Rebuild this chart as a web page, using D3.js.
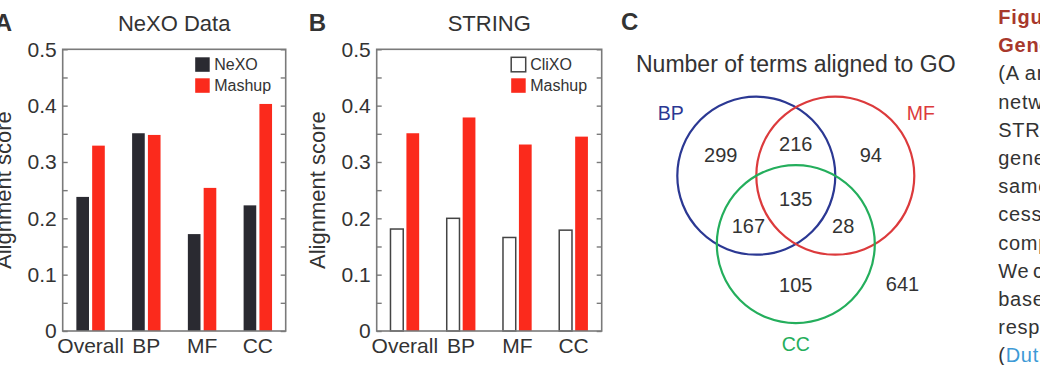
<html>
<head>
<meta charset="utf-8">
<script src="https://d3js.org/d3.v7.min.js"></script>
<style>
    body {
        margin: 0;
        background: #fff;
    }

    svg text {
        font-family: "Liberation Sans", Arial, Helvetica, sans-serif;
        fill: #333;
    }

    .caption {
        letter-spacing: 0.7px;
    }
</style>
</head>

<body>
<div id="chart"></div>

<script>
    // Data
    var categories = ["Overall", "BP", "MF", "CC"];
    var nexoScore = [0.238, 0.351, 0.172, 0.223];
    var nexoMashup = [0.329, 0.348, 0.254, 0.403];
    var clixoScore = [0.181, 0.200, 0.166, 0.179];
    var stringMashup = [0.351, 0.379, 0.331, 0.345];
    var yTickLabels = [0, 0.1, 0.2, 0.3, 0.4, 0.5];

    var vennSets = ["BP", "MF", "CC"];
    var vennOnly = [299, 94, 105];          // BP only, MF only, CC only
    var vennPairs = [216, 167, 28];        // BP&MF, BP&CC, MF&CC
    var vennAll = 135;
    var vennNone = 641;

    var captionLines = [
        "Figure 3. Comparison of inferred ontologies to the",
        "Gene Ontology",
        "(A and B) Alignment of ontologies inferred from the",
        "network data used to build NeXO and from the",
        "STRING network with the Gene Ontology, for the",
        "genes annotated in both the inferred ontology and the",
        "same branch of GO (biological process, molecular pro-",
        "cess, molecular function and cellular",
        "component) of the Gene Ontology.",
        "We",
        "based on the terms of the two ontologies,",
        "respectively, as described previously",
        "(Dutkowski et al., 2013)."
    ];

    var width = 1040;
    var height = 365;
    var svg = d3.select("#chart").append("svg")
        .attr("width", width)
        .attr("height", height);

    var barDark = "#2a2a31";
    var barRed = "#fb2a1c";
    var frameColor = "#7a7a7a";

    function drawPanel(opts) {
        var left = opts.left, right = opts.right, top = 49.3, bottom = 331;
        var g = svg.append("g");

        var ys = d3.scaleLinear().domain([0, 0.5]).range([bottom, top]);
        var xs = d3.scaleBand().domain(categories).range([left, right])
            .paddingInner(0.49).paddingOuter(0.245);
        var xSub = d3.scaleBand().domain([0, 1]).range([0, xs.bandwidth()])
            .paddingInner(0.2);

        // bars
        opts.series.forEach(function (s, si) {
            g.selectAll(null)
                .data(s.values)
                .enter()
                .append("rect")
                .attr("x", function (d, i) { return xs(categories[i]) + xSub(si); })
                .attr("y", function (d) { return ys(d); })
                .attr("width", xSub.bandwidth())
                .attr("height", function (d) { return ys(0) - ys(d); })
                .attr("fill", s.fill)
                .attr("stroke", s.stroke || "none")
                .attr("stroke-width", 1.5);
        });

        // frame
        g.append("rect")
            .attr("x", left).attr("y", top)
            .attr("width", right - left).attr("height", bottom - top)
            .attr("fill", "none")
            .attr("stroke", frameColor)
            .attr("stroke-width", 1.6);

        var minor = d3.range(0, 0.5001, 0.05);
        var yLeft = g.append("g")
            .attr("transform", "translate(" + left + ",0)")
            .call(d3.axisLeft(ys).tickValues(minor).tickSize(-5).tickPadding(6)
                .tickFormat(function (d) {
                    var hit = yTickLabels.find(function (t) { return Math.abs(t - d) < 1e-6; });
                    return hit === undefined ? "" : d3.format("")(hit);
                }));
        yLeft.select(".domain").remove();
        yLeft.selectAll("line").attr("stroke", frameColor).attr("stroke-width", 1.4);
        yLeft.selectAll("text").style("font-size", "21px").attr("fill", "#333");

        var yRight = g.append("g")
            .attr("transform", "translate(" + right + ",0)")
            .call(d3.axisRight(ys).tickValues(minor).tickSize(-5).tickFormat(""));
        yRight.select(".domain").remove();
        yRight.selectAll("line").attr("stroke", frameColor).attr("stroke-width", 1.4);

        var xAxis = g.append("g")
            .attr("transform", "translate(0," + bottom + ")")
            .call(d3.axisBottom(xs).tickSize(0).tickPadding(7));
        xAxis.select(".domain").remove();
        xAxis.selectAll("text").style("font-size", "21px").attr("fill", "#333");

        // titles
        g.append("text")
            .attr("x", (left + right) / 2)
            .attr("y", 31)
            .attr("text-anchor", "middle")
            .style("font-size", "22px")
            .text(opts.title);

        g.append("text")
            .attr("x", left - 68)
            .attr("y", 31)
            .style("font-size", "24px")
            .style("font-weight", "bold")
            .attr("fill", "#222")
            .text(opts.letter);

        g.append("text")
            .attr("transform", "translate(" + (left - 52) + "," + ((top + bottom) / 2) + ") rotate(-90)")
            .attr("text-anchor", "middle")
            .style("font-size", "22px")
            .text("Alignment score");

        // legend
        opts.series.forEach(function (s, si) {
            var ly = top + 8 + si * 21;
            g.append("rect")
                .attr("x", right - 90.5).attr("y", ly)
                .attr("width", 14.5).attr("height", 14.5)
                .attr("fill", s.fill)
                .attr("stroke", s.stroke || "none")
                .attr("stroke-width", 1.5);
            g.append("text")
                .attr("x", right - 71.5).attr("y", ly + 7.25)
                .attr("dy", "0.36em")
                .style("font-size", "16px")
                .text(s.name);
        });
    }

    drawPanel({
        left: 62.7, right: 285.7, title: "NeXO Data", letter: "A",
        series: [
            { name: "NeXO", values: nexoScore, fill: barDark },
            { name: "Mashup", values: nexoMashup, fill: barRed }
        ]
    });

    drawPanel({
        left: 376.7, right: 601.7, title: "STRING", letter: "B",
        series: [
            { name: "CliXO", values: clixoScore, fill: "#fff", stroke: "#444" },
            { name: "Mashup", values: stringMashup, fill: barRed }
        ]
    });

    // Panel C: Venn diagram
    var cx = 795.8, cy = 198.5, r = 79;
    var d = r / Math.sqrt(3);
    var setAngles = [210, 330, 90];
    var setColors = ["#2b3893", "#dc3a3c", "#24ae5c"];
    var labelAngles = [216, 324, 90];
    var labelDist = [1.34, 1.34, 1.26];

    var dirs = setAngles.map(function (a) {
        return [Math.cos(a * Math.PI / 180), Math.sin(a * Math.PI / 180)];
    });
    var centers = dirs.map(function (v) { return [cx + v[0] * d, cy + v[1] * d]; });

    var gc = svg.append("g");
    gc.append("text")
        .attr("x", 621).attr("y", 30)
        .style("font-size", "24px").style("font-weight", "bold").attr("fill", "#222")
        .text("C");
    gc.append("text")
        .attr("x", cx).attr("y", 71.7)
        .attr("text-anchor", "middle")
        .style("font-size", "23px")
        .text("Number of terms aligned to GO");

    gc.selectAll("circle")
        .data(vennSets)
        .enter()
        .append("circle")
        .attr("cx", function (s, i) { return centers[i][0]; })
        .attr("cy", function (s, i) { return centers[i][1]; })
        .attr("r", r)
        .attr("fill", "none")
        .attr("stroke", function (s, i) { return setColors[i]; })
        .attr("stroke-width", 2.2);

    gc.selectAll(".setlabel")
        .data(vennSets)
        .enter()
        .append("text")
        .attr("class", "setlabel")
        .attr("x", function (s, i) { return centers[i][0] + Math.cos(labelAngles[i] * Math.PI / 180) * labelDist[i] * r; })
        .attr("y", function (s, i) { return centers[i][1] + Math.sin(labelAngles[i] * Math.PI / 180) * labelDist[i] * r; })
        .attr("dy", "0.36em")
        .attr("text-anchor", "middle")
        .style("font-size", "19.5px")
        .style("fill", function (s, i) { return setColors[i]; })
        .text(function (s) { return s; });

    // region counts
    var regions = [];
    vennOnly.forEach(function (v, i) {
        regions.push({ v: v, x: cx + dirs[i][0] * 1.9 * d, y: cy + dirs[i][1] * 1.9 * d });
    });
    // pair k is opposite to the set not in it: BP&MF -> CC, BP&CC -> MF, MF&CC -> BP
    [2, 1, 0].forEach(function (k, j) {
        regions.push({ v: vennPairs[j], x: cx - dirs[k][0] * 1.2 * d, y: cy - dirs[k][1] * 1.2 * d });
    });
    regions.push({ v: vennAll, x: cx, y: cy });
    regions.push({ v: vennNone, x: cx + 2.34 * d, y: cy + 1.87 * d });

    gc.selectAll(".count")
        .data(regions)
        .enter()
        .append("text")
        .attr("class", "count")
        .attr("x", function (p) { return p.x; })
        .attr("y", function (p) { return p.y; })
        .attr("dy", "0.36em")
        .attr("text-anchor", "middle")
        .style("font-size", "20px")
        .text(function (p) { return p.v; });

    // cut-off caption on the right
    var gt = svg.append("g");
    captionLines.forEach(function (line, i) {
        var t = gt.append("text")
            .attr("class", "caption")
            .attr("x", 998.3)
            .attr("y", 24 + i * 28.2)
            .style("font-size", "20px");
        if (i < 2) {
            t.style("font-weight", "bold").style("fill", "#a8382c").text(line);
        } else if (i === 9) {
            t.text(line);
            gt.append("text").attr("class", "caption").attr("x", 1033).attr("y", 24 + i * 28.2)
                .style("font-size", "20px").text("compared the");
        } else if (i === captionLines.length - 1) {
            t.append("tspan").text("(");
            t.append("tspan").style("fill", "#3d9ad6").text("Dutkowski et al., 2013");
            t.append("tspan").text(").");
        } else {
            t.text(line);
        }
    });
</script>
</body>
</html>
